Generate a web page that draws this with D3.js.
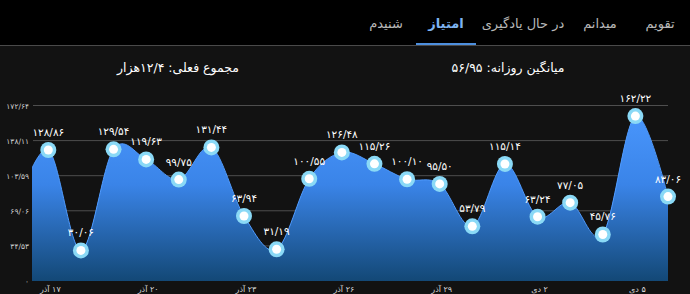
<!DOCTYPE html>
<html>
<head>
<meta charset="utf-8">
<script src="https://cdn.jsdelivr.net/npm/d3@7"></script>
<style>
  html, body { margin: 0; padding: 0; background: #121212; }
  svg { display: block; font-family: "DejaVu Sans", sans-serif; }
</style>
</head>
<body>
<div id="chart"></div>
<script>
// tabs (right to left), selected one is "امتیاز"
const tabs = ["تقویم", "میدانم", "در حال یادگیری", "امتیاز", "شنیدم"];
const tabX = [660, 600, 523, 446, 386];
const selectedTab = "امتیاز";

// daily scores, 17 Azar .. 6 Dey
const values = [128.86, 30.06, 129.54, 119.63, 99.75, 131.44, 63.94, 31.19, 100.55, 126.48,
    115.26, 100.10, 95.50, 53.79, 115.14, 63.24, 77.05, 45.76, 162.22, 83.06];
const prevValue = 71; // day before, only partly visible at the left edge

const yTicks = [0, 34.53, 69.06, 103.59, 138.11, 172.64];
const yTickLabels = ["۰", "۳۴/۵۳", "۶۹/۰۶", "۱۰۳/۵۹", "۱۳۸/۱۱", "۱۷۲/۶۴"];

const xTickIndex = [0, 3, 6, 9, 12, 15, 18];
const xTickLabels = ["۱۷ آذر", "۲۰ آذر", "۲۳ آذر", "۲۶ آذر", "۲۹ آذر", "۲ دی", "۵ دی"];

const totalText = "مجموع فعلی: ۱۲/۴هزار";
const avgText = "میانگین روزانه: ۵۶/۹۵";

const faDigits = "۰۱۲۳۴۵۶۷۸۹";
const toFa = s => String(s).replace(/[0-9]/g, d => faDigits[+d]);
const fmt = v => toFa(v.toFixed(2).replace(".", "/"));

const width = 690;
const height = 294;
const plotLeft = 32, plotRight = 668, plotTop = 105.5, plotBottom = 281;

const svg = d3.select("#chart").append("svg")
    .attr("width", width)
    .attr("height", height);

// tab bar
svg.append("rect").attr("width", width).attr("height", 45).attr("fill", "#000");
svg.append("rect").attr("y", 45).attr("width", width).attr("height", 1).attr("fill", "#4a4a4a");

svg.selectAll(".tab")
    .data(tabs)
    .join("text")
    .attr("class", "tab")
    .attr("x", (d, i) => tabX[i])
    .attr("y", 28)
    .attr("text-anchor", "middle")
    .attr("direction", "rtl")
    .attr("font-size", 13)
    .attr("font-weight", d => d === selectedTab ? "bold" : "normal")
    .attr("fill", d => d === selectedTab ? "#7eb3f2" : "#b8b8b8")
    .text(d => d);

const selIdx = tabs.indexOf(selectedTab);
svg.append("rect")
    .attr("x", tabX[selIdx] - 30)
    .attr("y", 43)
    .attr("width", 60)
    .attr("height", 2)
    .attr("fill", "#4d8fde");

// header stats
svg.append("text")
    .attr("x", 178).attr("y", 72)
    .attr("text-anchor", "middle").attr("direction", "rtl")
    .attr("font-size", 12.5).attr("fill", "#fff")
    .text(totalText);
svg.append("text")
    .attr("x", 508).attr("y", 72)
    .attr("text-anchor", "middle").attr("direction", "rtl")
    .attr("font-size", 12.5).attr("fill", "#fff")
    .text(avgText);

// scales
const x = d3.scaleLinear().domain([-0.5, values.length - 1]).range([plotLeft, plotRight]);
const y = d3.scaleLinear().domain([0, 172.64]).range([plotBottom, plotTop]);

// grid lines
svg.selectAll(".grid")
    .data(yTicks.slice(1))
    .join("line")
    .attr("class", "grid")
    .attr("x1", plotLeft + 1).attr("x2", plotRight)
    .attr("y1", d => y(d)).attr("y2", d => y(d))
    .attr("stroke", "#4e4e4e")
    .attr("stroke-width", 1);

// y labels
svg.selectAll(".ylab")
    .data(yTicks)
    .join("text")
    .attr("class", "ylab")
    .attr("x", 29)
    .attr("y", d => y(d) + 3)
    .attr("text-anchor", "end")
    .attr("font-size", 7.5)
    .attr("fill", "#cfcfcf")
    .text((d, i) => yTickLabels[i]);

// area
const defs = svg.append("defs");
const grad = defs.append("linearGradient")
    .attr("id", "fillGrad")
    .attr("gradientUnits", "userSpaceOnUse")
    .attr("x1", 0).attr("x2", 0)
    .attr("y1", plotTop).attr("y2", plotBottom);
grad.append("stop").attr("offset", "0%").attr("stop-color", "#4b98ff");
grad.append("stop").attr("offset", "45%").attr("stop-color", "#3a84e8");
grad.append("stop").attr("offset", "100%").attr("stop-color", "#134876");

defs.append("clipPath").attr("id", "plotClip")
    .append("rect")
    .attr("x", plotLeft).attr("y", 0)
    .attr("width", plotRight - plotLeft).attr("height", plotBottom);

const series = [{ i: -1, v: prevValue }].concat(values.map((v, i) => ({ i, v })));

const area = d3.area()
    .x(d => x(d.i))
    .y0(plotBottom)
    .y1(d => y(d.v))
    .curve(d3.curveCardinal.tension(0));

const line = d3.line()
    .x(d => x(d.i))
    .y(d => y(d.v))
    .curve(d3.curveCardinal.tension(0));

const plot = svg.append("g").attr("clip-path", "url(#plotClip)");
plot.append("path")
    .datum(series)
    .attr("d", area)
    .attr("fill", "url(#fillGrad)");
plot.append("path")
    .datum(series)
    .attr("d", line)
    .attr("fill", "none")
    .attr("stroke", "#4f9bff")
    .attr("stroke-width", 1);

// dots
const pts = values.map((v, i) => ({ i, v }));
svg.selectAll(".dot")
    .data(pts)
    .join("circle")
    .attr("class", "dot")
    .attr("cx", d => x(d.i))
    .attr("cy", d => y(d.v))
    .attr("r", 8)
    .attr("fill", "#8ad9f6");
svg.selectAll(".dotin")
    .data(pts)
    .join("circle")
    .attr("class", "dotin")
    .attr("cx", d => x(d.i))
    .attr("cy", d => y(d.v))
    .attr("r", 4.5)
    .attr("fill", "#fff");

// value labels
svg.selectAll(".vlab")
    .data(pts)
    .join("text")
    .attr("class", "vlab")
    .attr("x", d => x(d.i))
    .attr("y", d => y(d.v) - 14)
    .attr("text-anchor", "middle")
    .attr("font-size", 10.5)
    .attr("fill", "#fff")
    .text(d => fmt(d.v));

// x labels
svg.selectAll(".xlab")
    .data(xTickIndex)
    .join("text")
    .attr("class", "xlab")
    .attr("x", d => x(d) + 2)
    .attr("y", 292)
    .attr("text-anchor", "middle")
    .attr("direction", "rtl")
    .attr("font-size", 8)
    .attr("fill", "#dcdcdc")
    .text((d, i) => xTickLabels[i]);
</script>
</body>
</html>
